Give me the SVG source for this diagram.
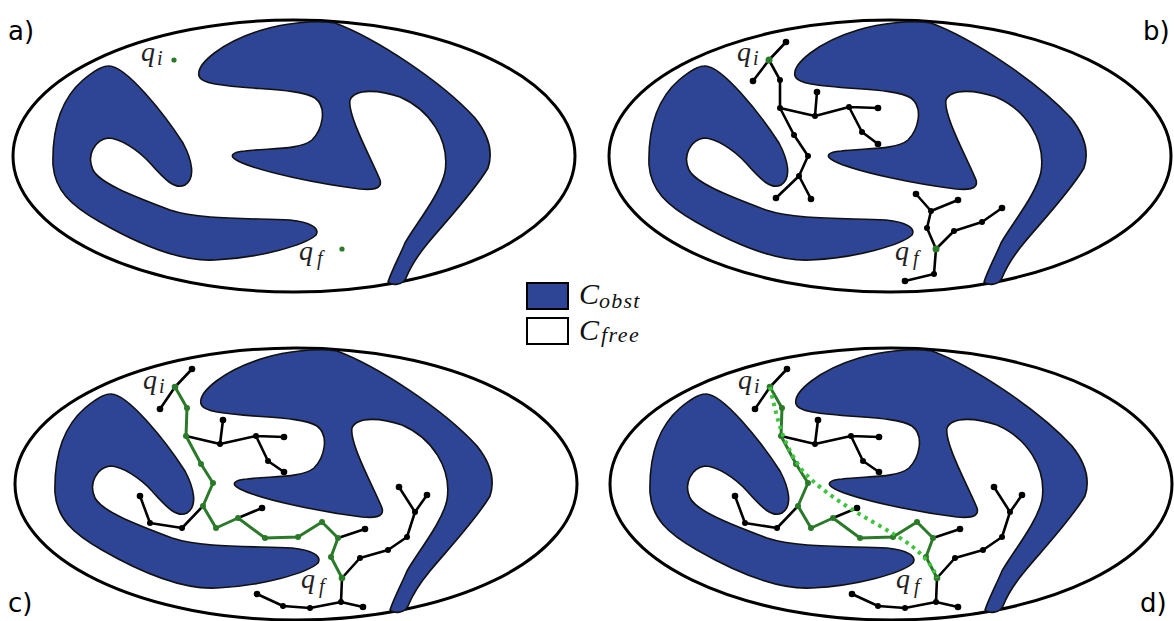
<svg xmlns="http://www.w3.org/2000/svg" xmlns:xlink="http://www.w3.org/1999/xlink" width="1174" height="621" viewBox="0 0 1174 621">
<style>
.bound{fill:#fff;stroke:#000;stroke-width:3}
.obs{fill:#2e4494;stroke:#111;stroke-width:1.6;stroke-linejoin:round}
.edge{fill:none;stroke:#000;stroke-width:2.6;stroke-linecap:round;stroke-linejoin:round}
.gpath{fill:none;stroke:#2a7a2a;stroke-width:3;stroke-linecap:round;stroke-linejoin:round}
.dots{fill:none;stroke:#3fc43f;stroke-width:4;stroke-dasharray:3.5 4.5}
.nd{fill:#000}
.gn{fill:#2a7a2a}
.lbl{font-family:"DejaVu Sans",sans-serif;font-size:26px;fill:#000}
.q{font-family:"Liberation Serif",serif;font-style:italic;font-size:28px;fill:#222}
.sub{font-size:20px}
.leg{font-family:"Liberation Serif",serif;font-style:italic;fill:#111}
</style>
<defs>
<g id="scene">
<ellipse class="bound" cx="294" cy="156" rx="281" ry="136"/>
<path class="obs" d="M108,66 C125,64 165,115 183,143 C192,160 196,178 185,185 C175,190 165,180 150,163 C138,150 120,138 108,138 C95,140 86,155 93,170 C100,183 130,195 170,210 C200,220 250,218 290,220 C310,222 320,228 316,235 C305,245 260,258 215,260 C180,262 140,245 100,222 C70,205 55,190 53,165 C52,130 60,100 83,80 C95,70 102,66 108,66 Z"/>
<path class="obs" d="M199,76 C196,64 222,42 262,30 C285,23 315,20 335,23 C375,38 440,80 475,118 C487,133 494,150 488,168 C474,192 440,228 428,243 C418,255 410,268 406,278 C403,285 392,286 388,282 C392,270 400,255 405,243 C415,225 440,195 445,172 C450,140 430,110 400,97 C380,90 355,88 350,100 C347,115 372,160 380,180 C383,190 370,190 360,189 C320,184 260,172 238,161 C228,156 232,152 245,151 C270,148 300,150 312,140 C322,130 328,108 315,98 C300,88 250,90 215,84 C205,82 200,80 199,76 Z"/>
</g>
<g id="labels">
<text class="q" x="141" y="61">q<tspan class="sub" x="157" y="65">i</tspan></text>
<text class="q" x="299" y="260">q<tspan class="sub" x="317" y="265">f</tspan></text>
</g>
<g id="fullTree">
<path class="edge" d="M190,41 L173,59 L158,81 M184,108 L218,116 L221,92 M218,116 L254,108 L282,109 M254,108 L266,133 L282,144 M201,178 L180,200 L148,195 L138,168 M236,190 L260,180 M336,210 L363,201 M340,250 L358,230 L386,222 L405,209 L413,184 L397,159 M413,184 L425,167 M340,250 L339,274 L361,279 M339,274 L308,280 L281,278 L255,266"/>
<g class="nd">
<circle cx="190" cy="41" r="3.3"/><circle cx="158" cy="81" r="3.3"/><circle cx="218" cy="116" r="3"/><circle cx="221" cy="92" r="3.3"/><circle cx="254" cy="108" r="3"/><circle cx="282" cy="109" r="3.3"/><circle cx="266" cy="133" r="3"/><circle cx="282" cy="144" r="3.3"/>
<circle cx="180" cy="200" r="3"/><circle cx="148" cy="195" r="3"/><circle cx="138" cy="168" r="3.3"/><circle cx="260" cy="180" r="3.3"/><circle cx="363" cy="201" r="3.3"/>
<circle cx="358" cy="230" r="3"/><circle cx="386" cy="222" r="3"/><circle cx="405" cy="209" r="3"/><circle cx="413" cy="184" r="3"/><circle cx="397" cy="159" r="3.3"/><circle cx="425" cy="167" r="3.3"/>
<circle cx="339" cy="274" r="3"/><circle cx="361" cy="279" r="3.3"/><circle cx="308" cy="280" r="3"/><circle cx="281" cy="278" r="3"/><circle cx="255" cy="266" r="3.3"/>
</g>
<path class="gpath" d="M173,59 L185,80 L184,108 L199,136 L211,155 L201,178 L214,200 L236,190 L263,210 L296,209 L320,194 L336,210 L329,229 L340,250"/>
<g class="gn">
<circle cx="173" cy="59" r="3.3"/><circle cx="185" cy="80" r="3"/><circle cx="184" cy="108" r="3"/><circle cx="199" cy="136" r="3"/><circle cx="211" cy="155" r="3"/><circle cx="201" cy="178" r="3"/><circle cx="214" cy="200" r="3"/><circle cx="236" cy="190" r="3"/><circle cx="263" cy="210" r="3"/><circle cx="296" cy="209" r="3"/><circle cx="320" cy="194" r="3"/><circle cx="336" cy="210" r="3"/><circle cx="329" cy="229" r="3"/><circle cx="340" cy="250" r="3.3"/>
</g>
</g>
</defs>

<g id="panel-a">
<use xlink:href="#scene" href="#scene"/>
<use xlink:href="#labels" href="#labels"/>
<circle class="gn" cx="174" cy="60" r="2.6"/>
<circle class="gn" cx="342" cy="249" r="2.6"/>
<text class="lbl" x="8" y="40">a)</text>
</g>

<g id="panel-b" transform="translate(596,0)">
<use xlink:href="#scene" href="#scene"/>
<use xlink:href="#labels" href="#labels"/>
<g id="tree-b">
<path class="edge" d="M190,42 L173,60 L157,81 M173,60 L184,80 L184,108 L198,135 L212,156 L203,176 L180,198 M203,176 L215,199 M184,108 L219,116 L221,92 M219,116 L253,107 L282,108 M253,107 L266,132 L282,144 M340,249 L331,228 L335,211 L320,194 M335,211 L362,200 M340,249 L358,231 L386,222 L406,208 M340,249 L338,274 L309,281"/>
<g class="nd">
<circle cx="190" cy="42" r="3.3"/><circle cx="157" cy="81" r="3.3"/><circle cx="184" cy="80" r="3"/><circle cx="184" cy="108" r="3"/><circle cx="198" cy="135" r="3"/><circle cx="212" cy="156" r="3"/><circle cx="203" cy="176" r="3"/><circle cx="180" cy="198" r="3.3"/><circle cx="215" cy="199" r="3.3"/>
<circle cx="219" cy="116" r="3"/><circle cx="221" cy="92" r="3.3"/><circle cx="253" cy="107" r="3"/><circle cx="282" cy="108" r="3.3"/><circle cx="266" cy="132" r="3"/><circle cx="282" cy="144" r="3.3"/>
<circle cx="331" cy="228" r="3"/><circle cx="335" cy="211" r="3"/><circle cx="320" cy="194" r="3.3"/><circle cx="362" cy="200" r="3.3"/><circle cx="358" cy="231" r="3"/><circle cx="386" cy="222" r="3"/><circle cx="406" cy="208" r="3.3"/><circle cx="338" cy="274" r="3"/><circle cx="309" cy="281" r="3.3"/>
</g>
<circle class="gn" cx="173" cy="60" r="3.5"/>
<circle class="gn" cx="340" cy="249" r="3.5"/>
</g>
<text class="lbl" x="547" y="40">b)</text>
</g>

<g id="panel-c" transform="translate(2,328)">
<use xlink:href="#scene" href="#scene"/>
<use xlink:href="#labels" href="#labels"/>
<use xlink:href="#fullTree" href="#fullTree"/>
<text class="lbl" x="6" y="284">c)</text>
</g>

<g id="panel-d" transform="translate(597,328)">
<use xlink:href="#scene" href="#scene"/>
<use xlink:href="#labels" href="#labels"/>
<use xlink:href="#fullTree" href="#fullTree"/>
<path class="dots" d="M173,59 C180,90 185,115 205,142 C230,170 270,190 300,208 C320,220 335,235 340,250"/>
<text class="lbl" x="543" y="284">d)</text>
</g>

<g id="legend">
<rect x="527" y="283" width="41" height="26" fill="#2e4494" stroke="#000" stroke-width="2"/>
<rect x="527" y="318" width="41" height="26" fill="#fff" stroke="#000" stroke-width="2"/>
<text class="leg" x="579" y="304" font-size="30">C<tspan font-size="22" y="308" letter-spacing="1.2">obst</tspan></text>
<text class="leg" x="579" y="340" font-size="30">C<tspan font-size="22" x="601" y="342" letter-spacing="1.5">free</tspan></text>
</g>
</svg>
